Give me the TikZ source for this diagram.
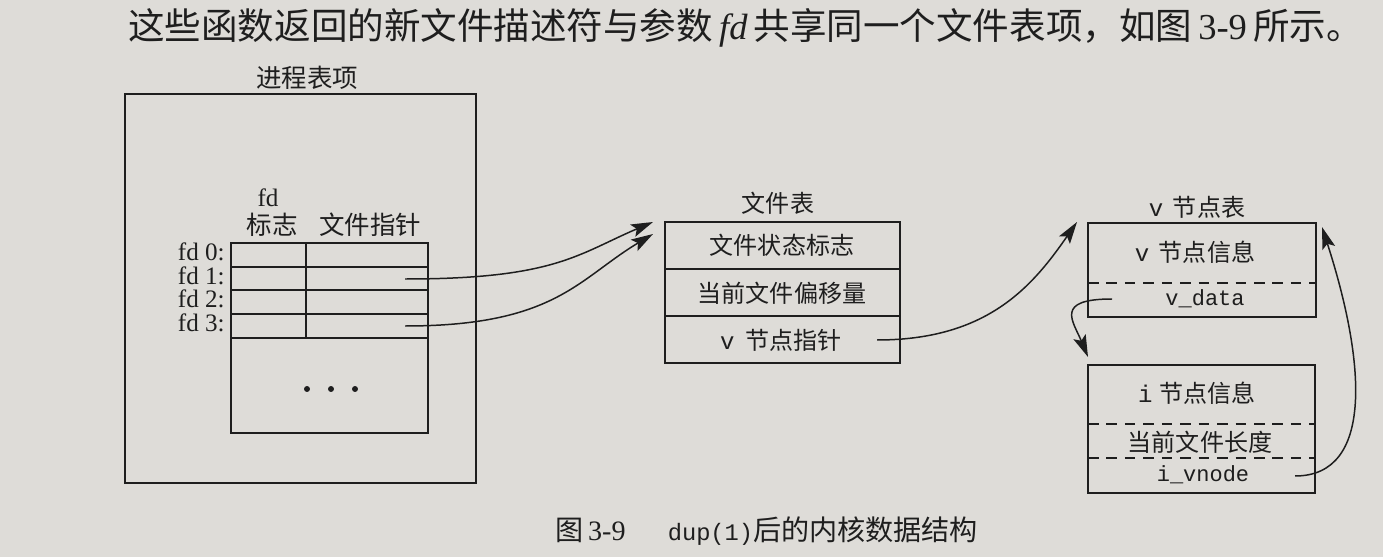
\documentclass[tikz,border=0pt]{standalone}
\usepackage{fontspec}
\setmainfont{Liberation Serif}
\newfontfamily\cjk{Noto Sans CJK SC}
\newfontfamily\mono{Liberation Mono}
\usetikzlibrary{arrows.meta}
\definecolor{paper}{HTML}{DEDCD8}
\definecolor{ink}{HTML}{1E1E1E}
\begin{document}
\begin{tikzpicture}[x=0.02cm,y=-0.02cm,
 box/.style={draw=ink,line width=0.85pt},
 dsh/.style={draw=ink,line width=0.75pt,dash pattern=on 6pt off 4.5pt},
 lab/.style={font=\fontsize{13.7}{15}\selectfont\cjk, text=ink, inner sep=0pt},
 plab/.style={font=\fontsize{14.5}{16}\selectfont\cjk, text=ink, inner sep=0pt},
 fdl/.style={font=\fontsize{14.3}{16}\selectfont, text=ink, inner sep=0pt, anchor=east},
 mon/.style={font=\fontsize{12.5}{14}\selectfont\mono, text=ink, inner sep=0pt},
 dotn/.style={circle, fill=ink, inner sep=0pt, minimum size=3.4pt},
 ptr/.style={draw=ink,line width=0.85pt,-{Stealth[length=12.5pt,width=7.5pt,inset=2.5pt]}},
]
\fill[paper] (0,0) rectangle (1383,557);
\useasboundingbox (0,0) rectangle (1383,557);

% top sentence
\node[font=\fontsize{20.8}{23}\selectfont\cjk, text=ink, inner sep=0pt, anchor=west] (sent) at (128,28)
 {这些函数返回的新文件描述符与参数\,{\rmfamily\itshape fd}\,共享同一个文件表项，如图\,{\rmfamily 3-9}\,所示。};

% process table entry
\node[plab] (ptitle) at (307,78) {进程表项};
\draw[box] (125,94) rectangle (476,483);
\draw[box] (231,243) rectangle (428,433);
\foreach \yy in {267,290,314,338} \draw[box] (231,\yy) -- (428,\yy);
\draw[box] (306,243) -- (306,338);
\node[fdl, anchor=center] (fdh) at (268,198) {fd};
\node[plab] (flag) at (272,225) {标志};
\node[plab] (fptr) at (370,225) {文件指针};
\node[fdl] (fd0) at (225,252) {fd 0:};
\node[fdl] (fd1) at (225,276) {fd 1:};
\node[fdl] (fd2) at (225,299) {fd 2:};
\node[fdl] (fd3) at (225,323) {fd 3:};
\node[dotn] (d1) at (307,389) {};
\node[dotn] (d2) at (331,389) {};
\node[dotn] (d3) at (355,389) {};

% file table
\node[lab] (fttitle) at (778,203) {文件表};
\draw[box] (665,222) rectangle (900,363);
\draw[box] (665,269) -- (900,269);
\draw[box] (665,316) -- (900,316);
\node[lab] (fsf) at (782,245) {文件状态标志};
\node[lab] (off) at (782,293) {当前文件偏移量};
\node[lab] (vp) at (781,340) {{\mono v}\hspace{0.45em}节点指针};

% v-node table
\node[lab] (vtitle) at (1197,207) {{\mono v}\hspace{0.4em}节点表};
\draw[box] (1088,223) rectangle (1316,317);
\draw[dsh] (1088,283) -- (1316,283);
\node[lab] (vinfo) at (1195,252) {{\mono v}\hspace{0.4em}节点信息};
\node[mon] (vdata) at (1205,299) {v\_data};

% i-node table
\draw[box] (1088,365) rectangle (1315,493);
\draw[dsh] (1088,424) -- (1315,424);
\draw[dsh] (1088,458) -- (1315,458);
\node[lab] (iinfo) at (1197,393) {{\mono i}\hspace{0.3em}节点信息};
\node[lab] (ilen) at (1200,442) {当前文件长度};
\node[mon] (ivnode) at (1203,475) {i\_vnode};

% connectors
\coordinate (fd1s) at (405,279);
\coordinate (fd3s) at (405,326);
\coordinate (ft1) at (653,222);
\coordinate (ft2) at (653,234);
\coordinate (vps) at (877,340);
\coordinate (vtip) at (1077,222);
\coordinate (vds) at (1112,299);
\coordinate (itip) at (1088,357);
\coordinate (ivs) at (1295,476);
\coordinate (vtip2) at (1322,227);
\draw[ptr] (fd1s) .. controls +(150,0) and +(-75,32) .. (ft1);
\draw[ptr] (fd3s) .. controls +(150,0) and +(-75,45) .. (ft2);
\draw[ptr] (vps) .. controls +(110,0) and +(-45,65) .. (vtip);
\draw[ptr] (vds) .. controls +(-58,0) and +(-15,-36) .. (itip);
\draw[ptr] (ivs) .. controls +(80,0) and +(43,133) .. (vtip2);

% caption
\node[font=\fontsize{16}{18}\selectfont, text=ink, inner sep=0pt, anchor=west] (cap) at (555,531)
 {{\cjk 图}\,3-9\hspace{1.5em}{\mono\fontsize{13.5}{15}\selectfont dup(1)}{\cjk 后的内核数据结构}};
\end{tikzpicture}
\end{document}
